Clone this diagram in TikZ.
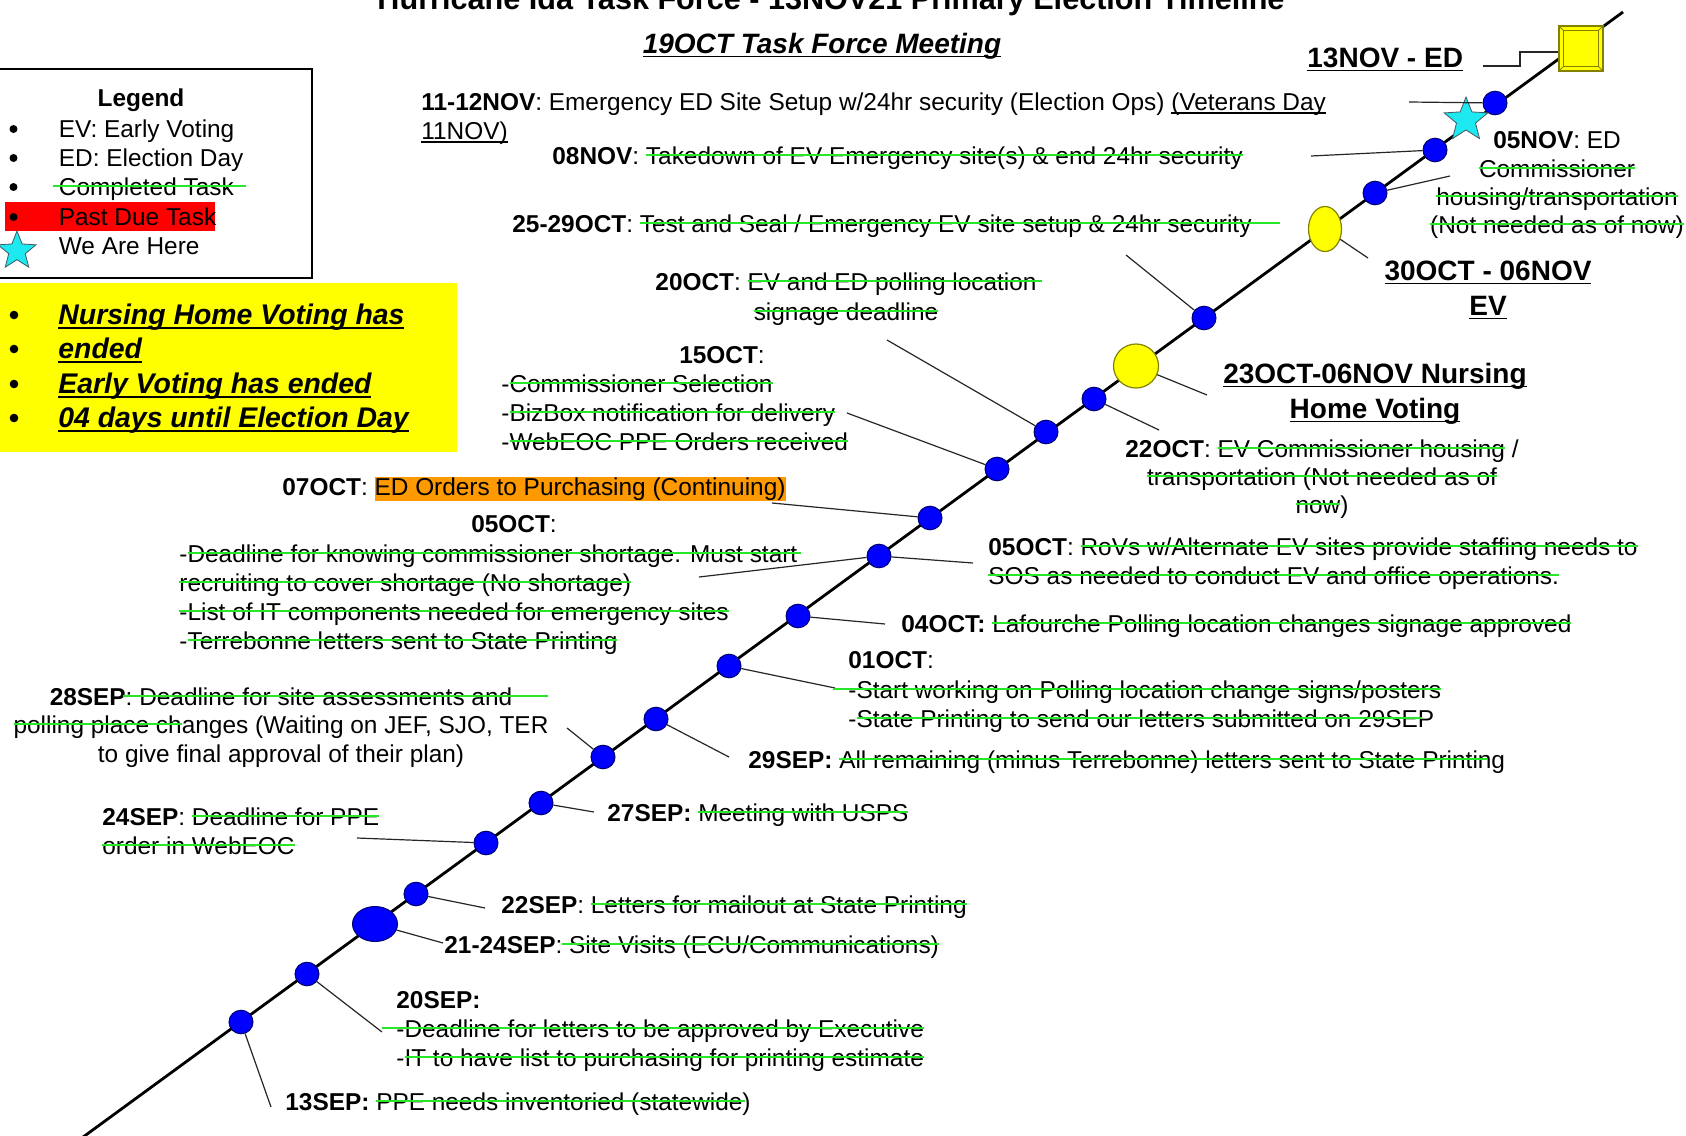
\documentclass[tikz,border=0pt]{standalone}
\usepackage{fontspec}
\setmainfont{Liberation Sans}
\usetikzlibrary{shapes.geometric}
\definecolor{gline}{RGB}{40,230,40}
\definecolor{bnode}{RGB}{0,0,255}
\definecolor{bedge}{RGB}{0,0,110}
\definecolor{ynode}{RGB}{255,255,0}
\definecolor{yedge}{RGB}{130,130,0}
\definecolor{hlorange}{RGB}{255,153,0}
\definecolor{starcyan}{RGB}{30,232,240}
\newlength\gslen
\NewDocumentCommand\gs{O{0pt}O{0pt}m}{\settowidth\gslen{#3}#3\llap{{\color{gline}\rule[0.32em]{\dimexpr\gslen+#1+#2\relax}{1.1pt}}\kern-\dimexpr#2\relax}}
\newcommand\myul[1]{\settowidth\gslen{#1}#1\llap{\rule[-0.16em]{\gslen}{0.8pt}}}
\newcommand\hlbox[1]{{\fboxsep=0pt\colorbox{hlorange}{\rule[-3pt]{0pt}{11.5pt}#1}}}
\begin{document}
\begin{tikzpicture}[x=0.5pt,y=-0.5pt,
  txt/.style={inner sep=0pt, font=\fontsize{12.2}{14.5}\selectfont, anchor=base west},
  ctxt/.style={txt, anchor=base},
  bigl/.style={inner sep=0pt, font=\fontsize{14}{17}\selectfont\bfseries, anchor=base},
  ytxt/.style={inner sep=0pt, font=\fontsize{14.2}{17}\selectfont\bfseries\itshape, anchor=base west},
  dot/.style={ellipse, fill=bnode, draw=bedge, line width=0.5pt, minimum width=12pt, minimum height=11.8pt, inner sep=0pt},
  ydot/.style={ellipse, fill=ynode, draw=yedge, line width=0.6pt, inner sep=0pt},
  conn/.style={line width=0.6pt, black!85},
  mainline/.style={line width=1.4pt, black},
  bul/.style={fill=black},
  cstar/.style={star, star points=5, star point ratio=2.3, fill=starcyan, draw=black!70!cyan, line width=0.4pt, inner sep=0pt}
]
\useasboundingbox (0,0) rectangle (1686,1135);

% ---------- yellow note box and legend ----------
\fill[ynode] (-5,283) rectangle (457,452);
\draw[line width=0.8pt] (-5,69) rectangle (312,278);
\fill[red] (5,202) rectangle (215,231);

\node[txt, font=\fontsize{12.2}{14.5}\selectfont\bfseries, anchor=base] (lgtitle) at (141,106) {Legend};
\foreach \yy in {129,158,187,217} \fill[bul] (13.5,\yy) circle (4);
\node[txt] (lg1) at (58.5,137) {EV: Early Voting};
\node[txt] (lg2) at (58.5,166) {ED: Election Day};
\node[txt] (lg3) at (58.5,195) {\gs[3.2pt][6pt]{Completed Task}};
\node[txt] (lg4) at (58.5,225) {Past Due Task};
\node[txt] (lg5) at (58.5,254) {We Are Here};
\node[cstar, minimum size=20pt] (lgstar) at (17,251) {};

\foreach \yy in {315,349,384,418} \fill[bul] (14,\yy) circle (4.3);
\node[ytxt] (y1) at (58,324) {\myul{Nursing Home Voting has}};
\node[ytxt] (y2) at (58,358) {\myul{ended}};
\node[ytxt] (y3) at (58,393) {\myul{Early Voting has ended}};
\node[ytxt] (y4) at (58,427) {\myul{04 days until Election Day}};

% ---------- titles ----------
\node[inner sep=0pt, font=\fontsize{15.3}{18}\selectfont\bfseries, anchor=base] (title) at (831,10) {Hurricane Ida Task Force - 13NOV21 Primary Election Timeline};
\node[inner sep=0pt, font=\fontsize{14}{17}\selectfont\bfseries\itshape, anchor=base] (subtitle) at (822,53) {\myul{19OCT Task Force Meeting}};

% ---------- main timeline ----------
\coordinate (L0) at (79,1140);
\coordinate (L1) at (1623,12);
\draw[mainline] (L0) -- (L1);

% ---------- connector end points ----------
\coordinate (e13sep) at (271,1107);
\coordinate (e20sep) at (382,1032);
\coordinate (ebig) at (443,943);
\coordinate (e22sep) at (485,908);
\coordinate (e24sep) at (357,838);
\coordinate (e27sep) at (594,812);
\coordinate (e28sep) at (567,728);
\coordinate (e29sep) at (729,757);
\coordinate (e01oct) at (835,688);
\coordinate (e04oct) at (885,624);
\coordinate (e05octL) at (699,577);
\coordinate (e05octR) at (973,563);
\coordinate (e07oct) at (772,503);
\coordinate (e15oct) at (847,413);
\coordinate (e20oct) at (887,340);
\coordinate (e22oct) at (1159,430);
\coordinate (enh) at (1207,395);
\coordinate (e25oct) at (1126,255);
\coordinate (eev) at (1368,258);
\coordinate (e05nov) at (1450,176);
\coordinate (e08nov) at (1311,156);
\coordinate (e1112) at (1409,102);
\coordinate (e13nov) at (1483,66);
\coordinate (k13) at (1520,52);

% ---------- nodes on the timeline ----------
\node[dot] (n13sep) at (241,1022) {};
\node[dot] (n20sep) at (307,974) {};
\node[dot, minimum width=22.5pt, minimum height=17.5pt] (nbig) at (375,924) {};
\node[dot] (n22sep) at (416,894) {};
\node[dot] (n24sep) at (486,843) {};
\node[dot] (n27sep) at (541,803) {};
\node[dot] (n28sep) at (603,757) {};
\node[dot] (n29sep) at (656,719) {};
\node[dot] (n01oct) at (729,666) {};
\node[dot] (n04oct) at (798,616) {};
\node[dot] (n05oct) at (879,556) {};
\node[dot] (n07oct) at (930,518) {};
\node[dot] (n15oct) at (997,469) {};
\node[dot] (n20oct) at (1046,432) {};
\node[dot] (n22oct) at (1094,399) {};
\node[ydot, minimum width=22.5pt, minimum height=22pt] (nnh) at (1136,366) {};
\node[dot] (n25oct) at (1204,318) {};
\node[ydot, minimum width=16.5pt, minimum height=22.5pt] (nev) at (1325,229) {};
\node[dot] (n05nov) at (1375,193) {};
\node[dot] (n08nov) at (1435,150) {};
\node[dot] (n1112) at (1495,103) {};
\node[cstar, minimum size=23pt] (nstar) at (1466,120) {};
\node[fill=ynode, draw=yedge, line width=0.8pt, minimum width=22pt, minimum height=22.5pt, inner sep=0pt] (sq) at (1581,48.5) {};
\draw[yedge, line width=0.6pt] ([shift={(5,5)}]sq.north west) rectangle ([shift={(-5,-5)}]sq.south east);
\draw[yedge, line width=0.5pt] (sq.north west) -- ([shift={(5,5)}]sq.north west)
  (sq.north east) -- ([shift={(-5,5)}]sq.north east)
  (sq.south west) -- ([shift={(5,-5)}]sq.south west)
  (sq.south east) -- ([shift={(-5,-5)}]sq.south east);

% ---------- connectors ----------
\draw[conn] (n13sep) -- (e13sep);
\draw[conn] (n20sep) -- (e20sep);
\draw[conn] (nbig) -- (ebig);
\draw[conn] (n22sep) -- (e22sep);
\draw[conn] (e24sep) -- (n24sep);
\draw[conn] (n27sep) -- (e27sep);
\draw[conn] (e28sep) -- (n28sep);
\draw[conn] (n29sep) -- (e29sep);
\draw[conn] (n01oct) -- (e01oct);
\draw[conn] (n04oct) -- (e04oct);
\draw[conn] (e05octL) -- (n05oct);
\draw[conn] (n05oct) -- (e05octR);
\draw[conn] (e07oct) -- (n07oct);
\draw[conn] (e15oct) -- (n15oct);
\draw[conn] (e20oct) -- (n20oct);
\draw[conn] (n22oct) -- (e22oct);
\draw[conn] (nnh) -- (enh);
\draw[conn] (e25oct) -- (n25oct);
\draw[conn] (nev) -- (eev);
\draw[conn] (n05nov) -- (e05nov);
\draw[conn] (e08nov) -- (n08nov);
\draw[conn] (e1112) -- (n1112);
\draw[conn] (e13nov) -- (e13nov -| k13) -- (k13) -- (sq.west |- k13);

% ---------- labels, top right ----------
\node[bigl, anchor=base west] (l13nov) at (1307,67) {\myul{13NOV - ED}};
\node[txt] (t1112a) at (421,110) {\textbf{11-12NOV}: Emergency ED Site Setup w/24hr security (Election Ops) \myul{(Veterans Day}};
\node[txt] (t1112b) at (421,139) {\myul{11NOV)}};
\node[txt] (t08nov) at (552,164) {\textbf{08NOV}: \gs{Takedown of EV Emergency site(s) \& end 24hr security}};
\node[ctxt] (t05nova) at (1557,148) {\textbf{05NOV}: ED};
\node[ctxt] (t05novb) at (1557,177) {\gs{Commissioner}};
\node[ctxt] (t05novc) at (1557,205) {\gs{housing/transportation}};
\node[ctxt] (t05novd) at (1557,233) {\gs{(Not needed as of now)}};
\node[txt] (t25oct) at (512,232) {\textbf{25-29OCT}: \gs[0pt][14pt]{Test and Seal / Emergency EV site setup \& 24hr security}};
\node[bigl] (lev1) at (1488,280) {\myul{30OCT - 06NOV}};
\node[bigl] (lev2) at (1488,315) {\myul{EV}};
\node[ctxt] (t20octa) at (846,290) {\textbf{20OCT}: \gs[0pt][2.5pt]{EV and ED polling location}};
\node[ctxt] (t20octb) at (846,320) {\gs{signage deadline}};
\node[bigl] (lnh1) at (1375,383) {\myul{23OCT-06NOV Nursing}};
\node[bigl] (lnh2) at (1375,418) {\myul{Home Voting}};
\node[ctxt] (t22octa) at (1322,457) {\textbf{22OCT}: \gs{EV Commissioner housing} /};
\node[ctxt] (t22octb) at (1322,485) {\gs{transportation (Not needed as of}};
\node[ctxt] (t22octc) at (1322,513) {\gs{now})};

% ---------- labels, middle ----------
\node[ctxt] (t15octh) at (722,363) {\textbf{15OCT}:};
\node[txt] (t15octa) at (501,392) {-\gs{Commissioner Selection}};
\node[txt] (t15octb) at (501,421) {-\gs{BizBox notification for delivery}};
\node[txt] (t15octc) at (501,450) {-\gs{WebEOC PPE Orders received}};
\node[txt] (t07oct) at (282,495) {\textbf{07OCT}: \hlbox{ED Orders to Purchasing (Continuing)}};
\node[ctxt] (t05octh) at (514,532) {\textbf{05OCT}:};
\node[txt] (t05octa) at (179,562) {-\gs[0pt][2pt]{Deadline for knowing commissioner shortage. Must start}};
\node[txt] (t05octb) at (179,591) {\gs{recruiting to cover shortage (No shortage)}};
\node[txt] (t05octc) at (179,620) {\gs{-List of IT components needed for emergency sites}};
\node[txt] (t05octd) at (179,649) {-\gs{Terrebonne letters sent to State Printing}};
\node[txt] (t05octr1) at (988,555) {\textbf{05OCT}: \gs{RoVs w/Alternate EV sites provide staffing needs to}};
\node[txt] (t05octr2) at (988,584) {\gs{SOS as needed to conduct EV and office operations.}};
\node[txt] (t04oct) at (901,632) {\textbf{04OCT:} \gs{Lafourche Polling location changes signage approved}};
\node[txt] (t01octh) at (848,668) {\textbf{01OCT}:};
\node[txt] (t01octa) at (848,698) {\gs[7.5pt]{-Start working on Polling location change signs/posters}};
\node[txt] (t01octb) at (848,727) {-\gs[0pt][-6pt]{State Printing to send our letters submitted on 29SEP}};
\node[txt] (t29sep) at (748,768) {\textbf{29SEP:} \gs[0pt][-9pt]{All remaining (minus Terrebonne) letters sent to State Printing}};

% ---------- labels, bottom ----------
\node[ctxt] (t28sepa) at (281,705) {\textbf{28SEP}\gs[0pt][18pt]{: Deadline for site assessments and}};
\node[ctxt] (t28sepb) at (281,733) {\gs{polling place ch}anges (Waiting on JEF, SJO, TER};
\node[ctxt] (t28sepc) at (281,762) {to give final approval of their plan)};
\node[txt] (t27sep) at (607,821) {\textbf{27SEP:} \gs{Meeting with USPS}};
\node[txt] (t24sepa) at (102,825) {\textbf{24SEP}: \gs{Deadline for PPE}};
\node[txt] (t24sepb) at (102,854) {\gs{order in WebEOC}};
\node[txt] (t22sep) at (501,913) {\textbf{22SEP}: \gs{Letters for mailout at State Printing}};
\node[txt] (t21sep) at (444,953) {\textbf{21-24SEP}:\gs{ Site Visits (ECU/Communications)}};
\node[txt] (t20seph) at (396,1008) {\textbf{20SEP:}};
\node[txt] (t20sepa) at (396,1037) {\gs[7pt]{-Deadline for letters to be approved by Executive}};
\node[txt] (t20sepb) at (396,1066) {-\gs{IT to have list to purchasing for printing estimate}};
\node[txt] (t13sep) at (285,1110) {\textbf{13SEP:} \gs[0pt][-3pt]{PPE needs inventoried (statewide)}};
\end{tikzpicture}
\end{document}
